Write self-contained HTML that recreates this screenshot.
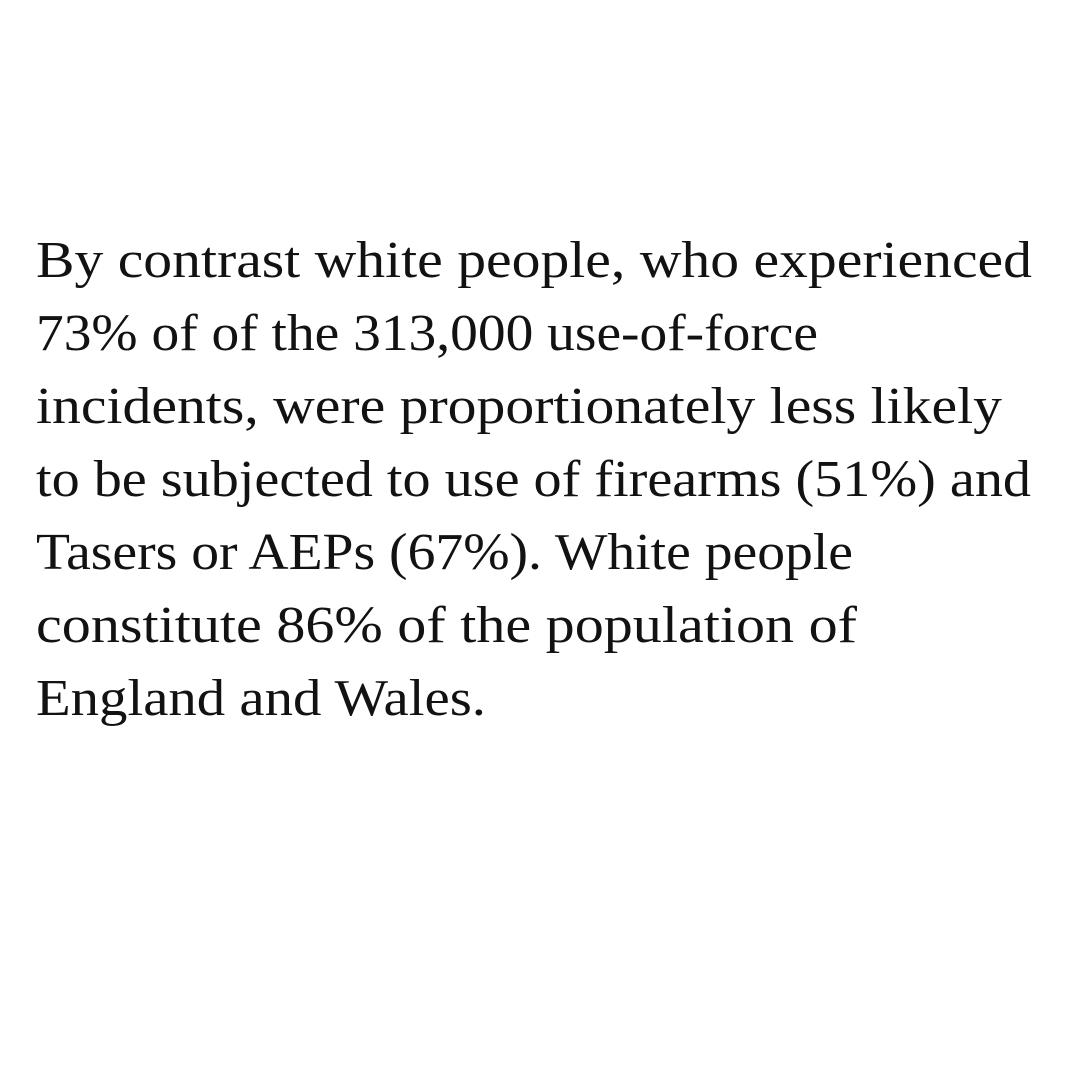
<!DOCTYPE html>
<html><head><meta charset="utf-8"><style>
html,body{margin:0;padding:0;background:#fff;width:1080px;height:1080px;overflow:hidden}
svg text{font-family:"Liberation Serif",serif;font-size:52px;fill:#121212}
</style></head><body>
<svg width="1080" height="1080">
<text x="36" y="277" textLength="996" lengthAdjust="spacingAndGlyphs">By contrast white people, who experienced</text>
<text x="36" y="350" textLength="782" lengthAdjust="spacingAndGlyphs">73% of of the 313,000 use-of-force</text>
<text x="36" y="423" textLength="966" lengthAdjust="spacingAndGlyphs">incidents, were proportionately less likely</text>
<text x="36" y="496" textLength="995" lengthAdjust="spacingAndGlyphs">to be subjected to use of firearms (51%) and</text>
<text x="36" y="569" textLength="817" lengthAdjust="spacingAndGlyphs">Tasers or AEPs (67%). White people</text>
<text x="36" y="642" textLength="821" lengthAdjust="spacingAndGlyphs">constitute 86% of the population of</text>
<text x="36" y="715" textLength="450" lengthAdjust="spacingAndGlyphs">England and Wales.</text>
</svg>
</body></html>
